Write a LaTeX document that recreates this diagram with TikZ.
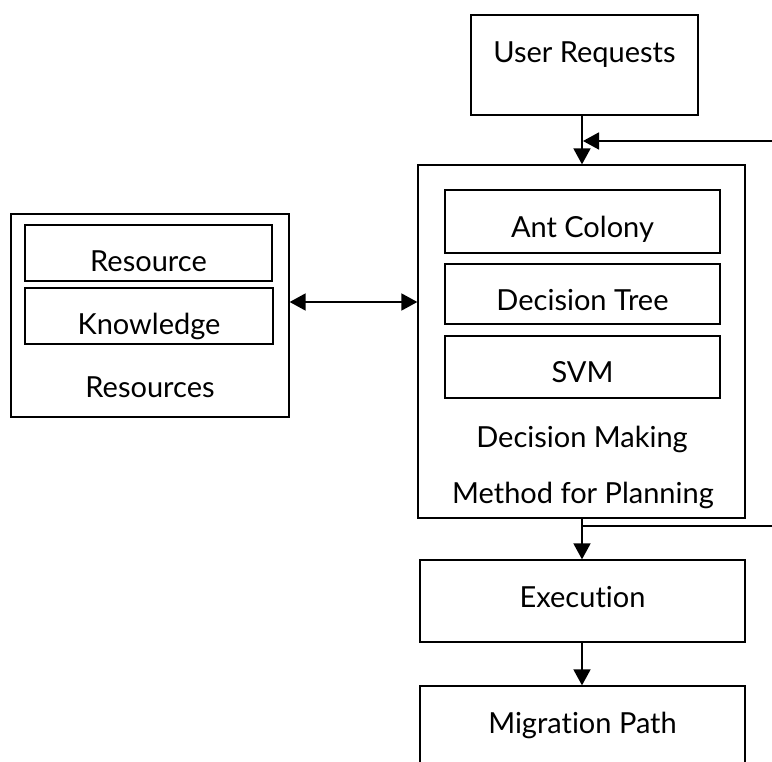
\documentclass[tikz,border=0pt]{standalone}
\usepackage{fontspec}
\setmainfont{Lato}[Ligatures=NoCommon]
\usetikzlibrary{arrows.meta}
\begin{document}
\begin{tikzpicture}[x=1pt,y=-1pt,
  box/.style={draw=black, line width=1.3pt, minimum width=#1, inner sep=0pt},
  lbl/.style={font=\fontsize{29}{34}\selectfont},
  th/.style 2 args={text height=#1, text depth=#2},
  tip/.tip={Triangle[length=16pt,width=17pt]},
  arr/.style={line width=1.8pt, -tip},
  dbl/.style={line width=1.8pt, tip-tip},
  ln/.style={line width=1.8pt}]
\useasboundingbox (0,0) rectangle (772,762);
% user requests
\node[box=227pt, minimum height=100pt, lbl, th={0pt}{4pt}] (user) at (584.5,65) {User Requests};
% main box
\node[box=327pt, minimum height=353pt] (main) at (581.5,341.5) {};
\node[box=275pt, minimum height=63pt, lbl, th={33pt}{0pt}] (ant) at (582.5,221.5) {Ant Colony};
\node[box=275pt, minimum height=60pt, lbl, th={34pt}{0pt}] (tree) at (582.5,294) {Decision Tree};
\node[box=275pt, minimum height=62pt, lbl, th={30pt}{0pt}] (svm) at (582.5,367) {SVM};
\node[lbl, anchor=base] (dm) at (582,447) {Decision Making};
\node[lbl, anchor=base] (mp) at (583,503) {Method for Planning};
% resources
\node[box=278pt, minimum height=203pt] (res) at (150,315.5) {};
\node[box=247pt, minimum height=56pt, lbl, th={38pt}{0pt}] (resource) at (148.5,253) {Resource};
\node[box=248pt, minimum height=56pt, lbl, th={38pt}{0pt}] (know) at (149,316) {Knowledge};
\node[lbl, anchor=base] (resources) at (150,397) {Resources};
% execution
\node[box=325pt, minimum height=82pt, lbl, th={12pt}{0pt}] (exec) at (582.5,601) {Execution};
\node[box=325pt, minimum height=114pt, lbl, th={0pt}{20pt}] (mig) at (582.5,743) {Migration Path};
% connectors
\coordinate (fbin) at (772,141);
\coordinate (fbout) at (772,526);
\draw[arr] (user.south -| 582,0) -- (main.north -| 582,0);
\draw[arr] (fbin) -- (583,141);
\draw[dbl] (res.east |- 0,302) -- (main.west |- 0,302);
\draw[arr] (main.south -| 582,0) -- (exec.north -| 582,0);
\draw[ln] (fbout) -- (582,526);
\draw[arr] (exec.south -| 582,0) -- (mig.north -| 582,0);
\end{tikzpicture}
\end{document}
